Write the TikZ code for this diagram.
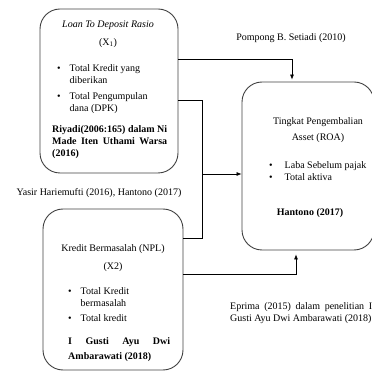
\documentclass[tikz,border=0pt]{standalone}
\usepackage{fontspec}
\setmainfont{Liberation Serif}
\usetikzlibrary{arrows.meta}
\begin{document}
\begin{tikzpicture}[x=1pt,y=-1pt,
  box/.style={draw=black!75,line width=0.9pt,rounded corners=20pt,inner sep=0pt},
  line/.style={line width=0.6pt},
  arr/.style={line width=0.6pt,-{Latex[length=5pt,width=4pt]}}]
\useasboundingbox (0,0) rectangle (372,371);
\node (ldr) [box,minimum width=138pt,minimum height=164pt] at (109,91) {};
\node (npl) [box,minimum width=140pt,minimum height=161pt] at (113,289.5) {};
\node (roa) [box,minimum width=132pt,minimum height=168pt] at (308,166) {};
\node (ldrtitle) at (108,25) {\textit{Loan To Deposit Rasio}};
\node (ldrx) at (108,43) {(X\textsubscript{1})};
\node (ldrlist) [anchor=north west,inner sep=0pt] at (57,62.5) {
\begin{tabular}{@{}l@{\hspace{9pt}}l@{}}
\textbullet & Total Kredit yang \\
 & diberikan \\[4pt]
\textbullet & Total Pengumpulan \\
 & dana (DPK) \\
\end{tabular}
};
\node (ldrref) [anchor=north west,text width=115pt,inner sep=0pt,align=justify,font=\bfseries] at (52,125) {Riyadi(2006:165)\hfill dalam\hfill Ni\\ Made\hfill Iten\hfill Uthami\hfill Warsa\\ (2016)};
\node (npltitle) at (113,249) {Kredit Bermasalah (NPL)};
\node (nplx) at (113,267) {(X2)};
\node (npllist) [anchor=north west,inner sep=0pt] at (68,285.5) {
\begin{tabular}{@{}l@{\hspace{9pt}}l@{}}
\textbullet & Total Kredit \\
 & bermasalah \\[3pt]
\textbullet & Total kredit \\
\end{tabular}
};
\node (nplref) [anchor=north west,text width=102pt,inner sep=0pt,align=justify,font=\bfseries] at (68,337) {I\hfill Gusti\hfill Ayu\hfill Dwi\\[3pt] Ambarawati (2018)};
\node (roatitle) [align=center] at (318,130) {Tingkat Pengembalian\\[4pt] Asset (ROA)};
\node (roalist) [anchor=north west,inner sep=0pt] at (269,159.5) {
\begin{tabular}{@{}l@{\hspace{12pt}}l@{}}
\textbullet & Laba Sebelum pajak \\
\textbullet & Total aktiva \\
\end{tabular}
};
\node (roaref) [font=\bfseries] at (310,213) {Hantono (2017)};
\node (pompong) at (291,38) {Pompong B. Setiadi (2010)};
\node (yasir) at (99,193) {Yasir Hariemufti (2016), Hantono (2017)};
\node (eprima) [anchor=north west,text width=142pt,inner sep=0pt,align=justify] at (230,302) {Eprima\hfill (2015)\hfill dalam\hfill penelitian\hfill I\\ Gusti Ayu Dwi Ambarawati (2018)};
\coordinate (jn) at (202,174);
\draw[arr] ([yshift=32pt]ldr.east) -| ([xshift=-16pt,yshift=2pt]roa.north);
\draw[line] ([yshift=-9pt]ldr.east) -| (jn);
\draw[line] ([yshift=51.5pt]npl.east) -| (jn);
\draw[arr] (jn) -- (jn -| roa.west);
\draw[arr] ([yshift=15pt]npl.east) -| ([xshift=-12pt,yshift=-4pt]roa.south);
\end{tikzpicture}
\end{document}
